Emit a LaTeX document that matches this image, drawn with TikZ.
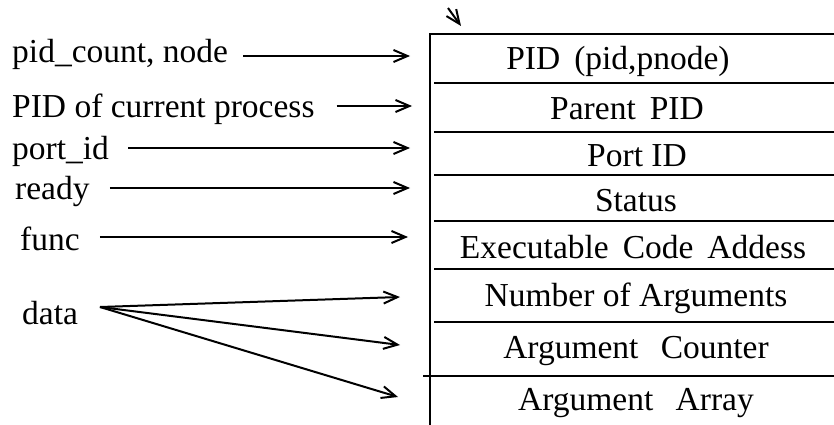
\documentclass[tikz,border=0pt]{standalone}
\usepackage{fontspec}
\setmainfont{Liberation Serif}
\usetikzlibrary{arrows.meta}
\begin{document}
\begin{tikzpicture}[x=1pt,y=-1pt,
  txt/.style={font=\fontsize{33.5}{40}\selectfont, inner sep=0pt},
  lbl/.style={txt, anchor=west},
  field/.style={txt, anchor=center},
  rule/.style={line width=2.4pt},
  arr/.style={line width=2pt, -{Straight Barb[length=14pt,width=12pt,line width=2pt]}}]
\useasboundingbox (0,0) rectangle (834,425);

% record outline and field separators
\draw[rule] (430,425) -- (430,34) -- (834,34);
\foreach \y in {83,132,175,221,269,322}
  \draw[rule] (434,\y) -- (834,\y);
\draw[rule] (423,376) -- (834,376);

% field contents
\node[field] (f1) at (618,61) {PID\, (pid,pnode)};
\node[field] (f2) at (627,109) {Parent\, PID};
\node[field] (f3) at (637,156) {Port ID};
\node[field] (f4) at (636,201) {Status};
\node[field] (f5) at (633,247) {Executable\, Code\, Addess};
\node[field] (f6) at (636,298) {Number of Arguments};
\node[field] (f7) at (636,351) {Argument\, \ Counter};
\node[field] (f8) at (636,403) {Argument\, \ Array};

% sources of the fields
\node[lbl] (l1) at (12,54) {pid\_count, node};
\node[lbl] (l2) at (12,109) {PID of current process};
\node[lbl] (l3) at (12,151) {port\_id};
\node[lbl] (l4) at (15,191) {ready};
\node[lbl] (l5) at (20,239) {func};
\node[lbl] (l6) at (22,313) {data};

% arrow targets in front of the record
\coordinate (t1) at (410,56);
\coordinate (t2) at (412,106);
\coordinate (t3) at (410,148);
\coordinate (t4) at (410,188);
\coordinate (t5) at (408,237);
\coordinate (t6) at (400,297);
\coordinate (t7) at (400,345);
\coordinate (t8) at (398,397);
\coordinate (d0) at (100,307);

\draw[arr] ([xshift=15pt]l1.east |- t1) -- (t1);
\draw[arr] ([xshift=22pt]l2.east |- t2) -- (t2);
\draw[arr] ([xshift=19pt]l3.east |- t3) -- (t3);
\draw[arr] ([xshift=20pt]l4.east |- t4) -- (t4);
\draw[arr] ([xshift=20pt]l5.east |- t5) -- (t5);
\draw[arr] (d0) -- (t6);
\draw[arr] (d0) -- (t7);
\draw[arr] (d0) -- (t8);

% pointer into the record from above
\coordinate (p0) at (448,8);
\coordinate (p1) at (461,26);
\draw[arr] (p0) -- (p1);
\end{tikzpicture}
\end{document}
